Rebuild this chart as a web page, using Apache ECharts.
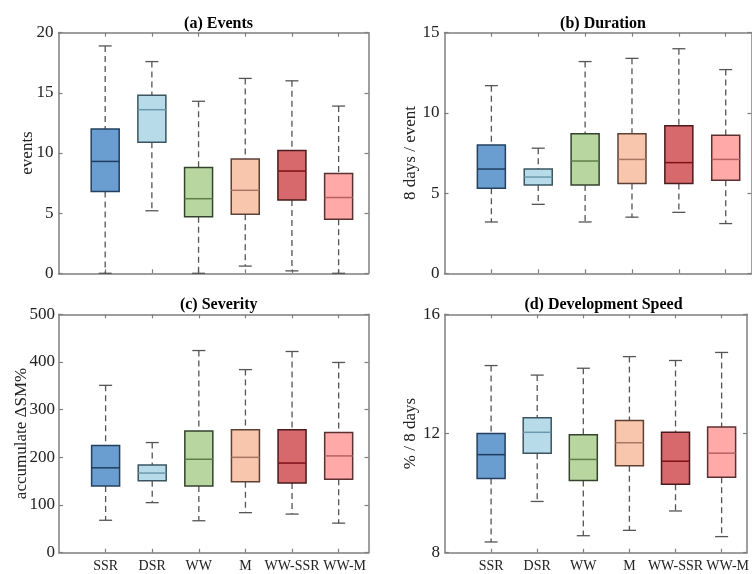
<!DOCTYPE html>
<html><head><meta charset="utf-8">
<script src="https://cdn.jsdelivr.net/npm/echarts@6/dist/echarts.min.js"></script>
<style>html,body{margin:0;padding:0;background:#fff}#c{width:752px;height:574px}</style>
</head><body><div id="c"></div>
<script>
const categories = ['SSR', 'DSR', 'WW', 'M', 'WW-SSR', 'WW-M'];
// each entry: [lower whisker, Q1, median, Q3, upper whisker]
const eventsStats = [
  [0.0, 6.8, 9.3, 12.0, 18.9],
  [5.2, 10.9, 13.6, 14.8, 17.6],
  [0.0, 4.7, 6.2, 8.8, 14.3],
  [0.6, 4.9, 6.9, 9.5, 16.2],
  [0.2, 6.1, 8.5, 10.2, 16.0],
  [0.0, 4.5, 6.3, 8.3, 13.9]
];
const durationStats = [
  [3.2, 5.3, 6.5, 8.0, 11.7],
  [4.3, 5.5, 6.0, 6.5, 7.8],
  [3.2, 5.5, 7.0, 8.7, 13.2],
  [3.5, 5.6, 7.1, 8.7, 13.4],
  [3.8, 5.6, 6.9, 9.2, 14.0],
  [3.1, 5.8, 7.1, 8.6, 12.7]
];
const severityStats = [
  [68, 140, 178, 225, 351],
  [105, 151, 167, 184, 231],
  [67, 140, 196, 255, 424],
  [84, 149, 200, 258, 384],
  [81, 146, 188, 258, 422],
  [62, 154, 203, 252, 399]
];
const speedStats = [
  [8.36, 10.49, 11.29, 12.00, 14.28],
  [9.72, 11.34, 12.04, 12.53, 13.96],
  [8.57, 10.42, 11.13, 11.96, 14.19],
  [8.75, 10.92, 11.69, 12.44, 14.58],
  [9.40, 10.30, 11.07, 12.04, 14.45],
  [8.54, 10.53, 11.34, 12.22, 14.72]
];
const tickPositions = [1, 2, 3, 4, 5, 6];
const panelTitles = ['(a) Events', '(b) Duration', '(c) Severity', '(d) Development Speed'];
const yNames = ['events', '8 days / event', 'accumulate \u0394SM%', '% / 8 days'];
const yMin = [0, 0, 0, 8];
const yMax = [20, 15, 500, 16];
const yInterval = [5, 5, 100, 4];
const xMax = [6.64, 6.55, 6.64, 6.55];

const fillColors = ['#6a9ed0', '#b8dbe9', '#b8d7a0', '#f8c6ac', '#d7696c', '#ffa9a9'];
const edgeColors = ['#23405e', '#3b5560', '#34432c', '#5d4036', '#4a1a1c', '#5c3030'];
const medianColors = ['#1f3d5f', '#6a99ab', '#5e7e4c', '#a77763', '#7d1019', '#b86262'];

const grids = [
  {left: 58.5, top: 32.7, width: 310, height: 240.6},
  {left: 444.5, top: 32.7, width: 307, height: 240.6},
  {left: 59, top: 314.3, width: 309.5, height: 238.4},
  {left: 445, top: 314.3, width: 307, height: 238.4}
];
const nameGaps = [22, 25, 29, 26];
const labelMargins = [5, 5, 4, 5];
const FONT = '"Liberation Serif", "DejaVu Serif", serif';
const AXC = '#7f7f7f';

function renderBox(params, api) {
  const x = api.value(0);
  const lo = api.coord([x, api.value(1)]);
  const q1 = api.coord([x, api.value(2)]);
  const md = api.coord([x, api.value(3)]);
  const q3 = api.coord([x, api.value(4)]);
  const hi = api.coord([x, api.value(5)]);
  const ci = params.dataIndex;
  const cx = lo[0], hw = 14, cw = 6.5;
  const dash = {stroke: '#555', lineWidth: 1.3, lineDash: [6, 4]};
  const solid = {stroke: '#555', lineWidth: 1.3};
  return {type: 'group', children: [
    {type: 'line', shape: {x1: cx, y1: hi[1], x2: cx, y2: q3[1]}, style: dash},
    {type: 'line', shape: {x1: cx, y1: q1[1], x2: cx, y2: lo[1]}, style: dash},
    {type: 'line', shape: {x1: cx - cw, y1: hi[1], x2: cx + cw, y2: hi[1]}, style: solid},
    {type: 'line', shape: {x1: cx - cw, y1: lo[1], x2: cx + cw, y2: lo[1]}, style: solid},
    {type: 'rect', shape: {x: cx - hw, y: q3[1], width: 2 * hw, height: q1[1] - q3[1]},
      style: {fill: fillColors[ci], stroke: edgeColors[ci], lineWidth: 1.5}},
    {type: 'line', shape: {x1: cx - hw, y1: md[1], x2: cx + hw, y2: md[1]},
      style: {stroke: medianColors[ci], lineWidth: 1.5}}
  ]};
}

const allStats = [eventsStats, durationStats, severityStats, speedStats];
const option = {
  backgroundColor: '#fff',
  animation: false,
  title: [], grid: [], xAxis: [], yAxis: [], series: []
};
const labelFmt = (v) => categories[Math.round(v) - 1] || '';
for (let i = 0; i < 4; i++) {
  const g = grids[i];
  const showCat = i >= 2;
  option.grid.push({left: g.left, top: g.top, width: g.width, height: g.height, containLabel: false});
  option.title.push({
    text: panelTitles[i], left: g.left + g.width / 2, top: g.top - 22, textAlign: 'center',
    textStyle: {fontFamily: FONT, fontWeight: 'bold', fontSize: 16, color: '#000'}
  });
  const lineStyle = {color: AXC, width: 1.5};
  // bottom axis: frame line, ticks, first five labels
  option.xAxis.push({
    type: 'value', gridIndex: i, position: 'bottom', min: 0, max: xMax[i],
    axisLine: {show: true, onZero: false, lineStyle},
    axisTick: {show: true, inside: true, length: 4, customValues: tickPositions, lineStyle: {color: AXC, width: 1.2}},
    axisLabel: {show: showCat, customValues: tickPositions.slice(0, 5), hideOverlap: false,
      formatter: labelFmt, fontFamily: FONT, fontSize: 14, color: '#222', margin: 7},
    splitLine: {show: false}
  });
  // top axis: frame line and ticks
  option.xAxis.push({
    type: 'value', gridIndex: i, position: 'top', min: 0, max: xMax[i],
    axisLine: {show: true, onZero: false, lineStyle},
    axisTick: {show: true, inside: true, length: 4, customValues: tickPositions, lineStyle: {color: AXC, width: 1.2}},
    axisLabel: {show: false},
    splitLine: {show: false}
  });
  // extra bottom axis carrying only the last category label (shifted right like the original)
  option.xAxis.push({
    type: 'value', gridIndex: i, position: 'bottom', min: 0, max: xMax[i],
    axisLine: {show: false, onZero: false}, axisTick: {show: false},
    axisLabel: {show: showCat, customValues: tickPositions.slice(5), hideOverlap: false,
      formatter: labelFmt, fontFamily: FONT, fontSize: 14, color: '#222', margin: 7,
      padding: [0, 0, 0, 12]},
    splitLine: {show: false}
  });
  ['left', 'right'].forEach((pos) => {
    option.yAxis.push({
      type: 'value', gridIndex: i, position: pos, min: yMin[i], max: yMax[i], interval: yInterval[i],
      name: pos === 'left' ? yNames[i] : '', nameLocation: 'middle', nameGap: nameGaps[i],
      nameMoveOverlap: false,
      nameTextStyle: {fontFamily: FONT, fontSize: 17, color: '#222'},
      axisLine: {show: true, onZero: false, lineStyle},
      axisTick: {show: true, inside: true, length: 4, lineStyle: {color: AXC, width: 1.2}},
      axisLabel: {show: pos === 'left', fontFamily: FONT, fontSize: 17, color: '#222', margin: labelMargins[i]},
      splitLine: {show: false}
    });
  });
  option.series.push({
    type: 'custom', xAxisIndex: 3 * i, yAxisIndex: 2 * i,
    renderItem: renderBox,
    encode: {x: 0, y: [1, 2, 3, 4, 5]},
    data: allStats[i].map((s, k) => [tickPositions[k]].concat(s)),
    clip: false
  });
}
const chart = echarts.init(document.getElementById('c'), null, {renderer: 'canvas'});
chart.setOption(option);
</script></body></html>
